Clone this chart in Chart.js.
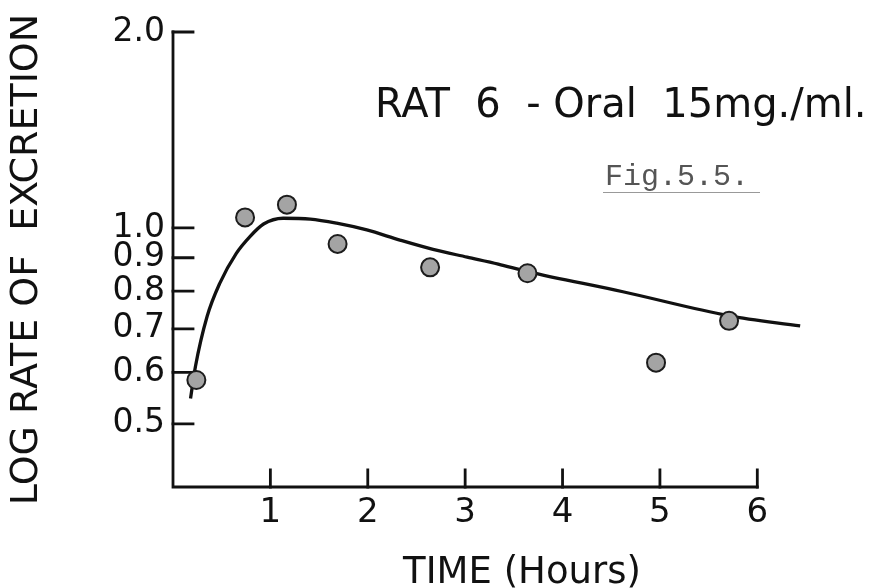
<!DOCTYPE html>
<html>
<head>
<meta charset="utf-8">
<title>RAT 6 - Oral 15mg./ml.</title>
<script src="https://cdn.jsdelivr.net/npm/chart.js@4.4.1/dist/chart.umd.min.js"></script>
<style>
  html, body { margin: 0; padding: 0; background: #fff; }
  #wrap { width: 869px; height: 588px; }
</style>
</head>
<body>
<div id="wrap"><canvas id="excretionChart" width="869" height="588"></canvas></div>
<script>
// measured points (hours, log rate)
const obsHours = [0.24, 0.74, 1.17, 1.69, 2.64, 3.64, 4.96, 5.71];
const obsRate = [0.584, 1.038, 1.086, 0.945, 0.870, 0.852, 0.621, 0.720];

// hand drawn fitted curve
const fitHours = [0.18, 0.23, 0.35, 0.48, 0.65, 0.79, 0.93, 1.13, 1.41, 1.68, 1.99, 2.33, 2.67, 3.02, 3.34, 3.64, 4.62, 5.71, 6.44];
const fitRate = [0.547, 0.612, 0.731, 0.822, 0.914, 0.970, 1.014, 1.035, 1.032, 1.017, 0.993, 0.958, 0.927, 0.902, 0.880, 0.857, 0.798, 0.733, 0.707];

// axis ticks
const xTicks = [1, 2, 3, 4, 5, 6];
const yTicks = [0.5, 0.6, 0.7, 0.8, 0.9, 1.0, 2.0];
const xAxisEnd = 6;

const ink = '#111';

// axes are drawn by hand: ticks point inwards like on the original sheet
const handAxes = {
    id: 'handAxes',
    beforeDatasetsDraw(chart) {
        const ctx = chart.ctx;
        const x = chart.scales.x;
        const y = chart.scales.y;
        const x0 = x.getPixelForValue(0);
        const x1 = x.getPixelForValue(xAxisEnd);
        const yTop = y.getPixelForValue(yTicks[yTicks.length - 1]);
        const yBot = y.bottom;
        ctx.save();
        ctx.strokeStyle = ink;
        ctx.lineWidth = 2.8;
        ctx.lineCap = 'square';
        ctx.beginPath();
        ctx.moveTo(x0, yTop);
        ctx.lineTo(x0, yBot);
        ctx.lineTo(x1, yBot);
        ctx.stroke();
        ctx.beginPath();
        yTicks.forEach(v => {
            const py = y.getPixelForValue(v);
            ctx.moveTo(x0, py);
            ctx.lineTo(x0 + 20, py);
        });
        xTicks.forEach(v => {
            const px = x.getPixelForValue(v);
            ctx.moveTo(px, yBot);
            ctx.lineTo(px, yBot - 17);
        });
        ctx.stroke();
        ctx.restore();
    },
    afterDraw(chart) {
        const ctx = chart.ctx;
        ctx.save();
        ctx.fillStyle = ink;
        ctx.textBaseline = 'alphabetic';
        ctx.textAlign = 'left';
        ctx.font = '40px "DejaVu Sans"';
        ctx.fillText('RAT  6  - Oral  15mg./ml.', 375, 117);

        ctx.fillStyle = '#555';
        ctx.font = '30px "Liberation Mono"';
        ctx.fillText('Fig.5.5.', 605, 185);
        ctx.strokeStyle = '#999';
        ctx.lineWidth = 1;
        ctx.beginPath();
        ctx.moveTo(603, 192.5);
        ctx.lineTo(760, 192.5);
        ctx.stroke();

        ctx.fillStyle = ink;
        ctx.font = '37px "DejaVu Sans"';
        ctx.textAlign = 'center';
        ctx.fillText('TIME (Hours)', 522, 583);
        ctx.restore();
    }
};

const ctx = document.getElementById('excretionChart').getContext('2d');
const excretionChart = new Chart(ctx, {
    type: 'scatter',
    data: {
        datasets: [{
            label: 'Fitted curve',
            data: fitHours.map((h, i) => ({ x: h, y: fitRate[i] })),
            showLine: true,
            borderColor: ink,
            borderWidth: 3.3,
            pointRadius: 0,
            cubicInterpolationMode: 'monotone',
            order: 2
        }, {
            label: 'Observed',
            data: obsHours.map((h, i) => ({ x: h, y: obsRate[i] })),
            showLine: false,
            pointRadius: 9,
            pointBackgroundColor: '#a4a4a4',
            pointBorderColor: '#1c1c1c',
            pointBorderWidth: 2,
            order: 1
        }]
    },
    options: {
        responsive: false,
        animation: false,
        layout: {
            padding: { top: 32, right: 63, left: 0, bottom: 0 }
        },
        plugins: {
            legend: { display: false },
            tooltip: { enabled: false }
        },
        scales: {
            x: {
                type: 'linear',
                min: 0,
                max: 6.5,
                grid: { display: false, drawTicks: false },
                border: { display: false },
                afterBuildTicks: scale => {
                    scale.ticks = xTicks.map(v => ({ value: v }));
                },
                afterFit: scale => { scale.height = 101; },
                ticks: {
                    color: ink,
                    padding: 6,
                    autoSkip: false,
                    maxRotation: 0,
                    font: { family: 'DejaVu Sans', size: 34 },
                    callback: v => String(v)
                }
            },
            y: {
                type: 'logarithmic',
                min: 0.4,
                max: 2.0,
                grid: { display: false, drawTicks: false },
                border: { display: false },
                afterBuildTicks: scale => {
                    scale.ticks = yTicks.map(v => ({ value: v }));
                },
                afterFit: scale => { scale.width = 173; },
                title: {
                    display: true,
                    text: 'LOG RATE OF  EXCRETION',
                    color: ink,
                    padding: { top: 4, bottom: 0 },
                    font: { family: 'DejaVu Sans', size: 38 }
                },
                ticks: {
                    color: ink,
                    padding: 8,
                    autoSkip: false,
                    font: { family: 'DejaVu Sans', size: 33 },
                    callback: v => Number(v).toFixed(1)
                }
            }
        }
    },
    plugins: [handAxes]
});
</script>
</body>
</html>
